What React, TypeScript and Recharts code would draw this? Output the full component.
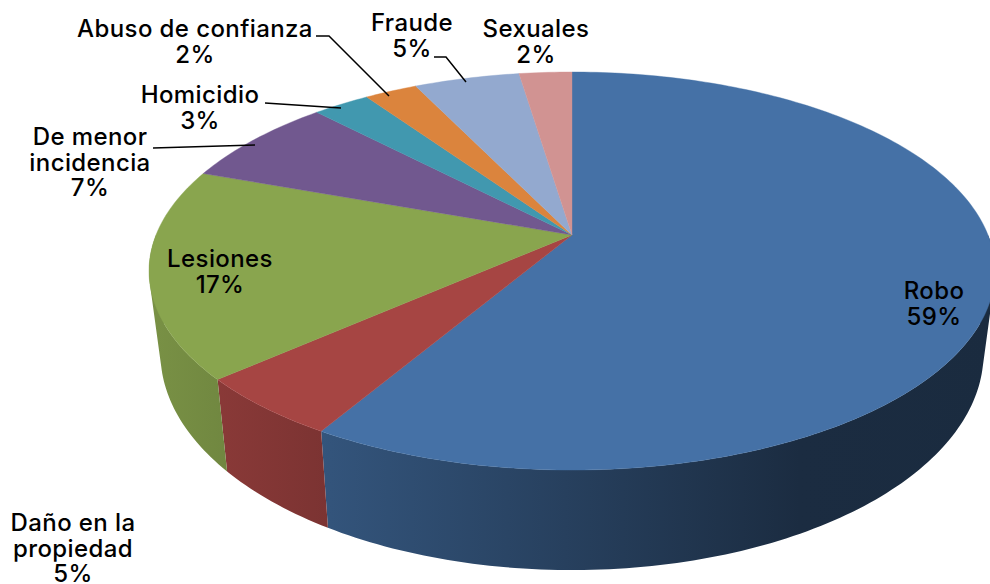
import { Pie, PieChart } from "recharts";

// pie slices, clockwise from 12 o'clock
const categories = ["Robo", "Daño en la propiedad", "Lesiones", "De menor incidencia", "Homicidio", "Abuso de confianza", "Fraude", "Sexuales"];
const values = [58.5, 5.0, 17.0, 7.3, 2.6, 2.4, 4.8, 2.4];
const colors = ["#4571A6", "#A64543", "#89A54E", "#71588F", "#4198AF", "#DB843D", "#93A9CF", "#D19392"];

const labelLines = [["Robo"], ["Daño en la", "propiedad"], ["Lesiones"], ["De menor", "incidencia"], ["Homicidio"], ["Abuso de confianza"], ["Fraude"], ["Sexuales"]];
const labelSpots = [[934, 299], [73, 531], [220, 267], [90, 145], [200, 103], [195, 37], [412, 31], [536, 37]];
const leaders = ["", "", "", "153,148 255,145", "265,103 341,108", "316,36 329,36 389,96", "434,57 446,57 466,82", ""];

const tableData = categories.map((name, i) => ({ name, value: values[i], fill: colors[i] }));

// fake 3d: the circle is projected so near side looks bigger
const squash = 192.5 / 416;
const persp = 0.181;
const rad = Math.PI / 180;

// side wall gets darker going to the right
const wallStops = [[150, 0.88], [330, 0.74], [800, 0.39], [1000, 0.38]];

function rimPoint(cx: number, cy: number, r: number, deg: number) {
  const X = Math.cos(deg * rad);
  const Y = -Math.sin(deg * rad);
  const w = 1 - persp * Y;
  return [cx + (r * X) / w, cy + (r * squash * Y) / w];
}

function floorPoint(cx: number, p: number[]) {
  return [cx + 0.973 * (p[0] - cx), p[1] + 92 + 0.09 * (p[1] - 381)];
}

function darken(hex: string, f: number) {
  const n = parseInt(hex.slice(1), 16);
  const c = [n >> 16, (n >> 8) & 255, n & 255].map((v) => Math.round(v * f));
  return `rgb(${c[0]},${c[1]},${c[2]})`;
}

function Slice3D(props: any) {
  const { cx, cy, outerRadius, startAngle, endAngle, fill, index } = props;
  const steps = Math.max(2, Math.ceil(Math.abs(startAngle - endAngle)));
  const rim: number[][] = [];
  for (let i = 0; i <= steps; i++) {
    rim.push(rimPoint(cx, cy, outerRadius, startAngle + ((endAngle - startAngle) * i) / steps));
  }
  const top = `M${cx},${cy}L` + rim.map((p) => `${p[0]},${p[1]}`).join("L") + "Z";

  // only the front half of the rim has a wall, all quads wound the same way
  let wall = "";
  for (let i = 0; i < steps; i++) {
    const midDeg = startAngle + ((endAngle - startAngle) * (i + 0.5)) / steps;
    if (Math.sin(midDeg * rad) > 0) continue;
    const q = [rim[i], rim[i + 1], floorPoint(cx, rim[i + 1]), floorPoint(cx, rim[i])];
    let area = 0;
    q.forEach((p, n) => {
      const o = q[(n + 1) % 4];
      area += p[0] * o[1] - o[0] * p[1];
    });
    const pts = area < 0 ? q.slice().reverse() : q;
    wall += "M" + pts.map((p) => `${p[0]},${p[1]}`).join("L") + "Z";
  }
  const gradId = `wall${index}`;
  return (
    <g>
      <defs>
        <linearGradient id={gradId} gradientUnits="userSpaceOnUse" x1={150} x2={1000} y1={0} y2={0}>
          {wallStops.map((s) => (
            <stop key={s[0]} offset={(s[0] - 150) / 850} stopColor={darken(fill, s[1])} />
          ))}
        </linearGradient>
      </defs>
      {wall && <path d={wall} fill={`url(#${gradId})`} stroke="none" />}
      <path d={top} fill={fill} stroke={fill} strokeWidth={0.4} />
    </g>
  );
}

function SliceLabel(props: any) {
  const i = props.index;
  const [x, y] = labelSpots[i];
  const lines = [...labelLines[i], Math.round(values[i]) + "%"];
  return (
    <g>
      {leaders[i] && <polyline points={leaders[i]} fill="none" stroke="#000" strokeWidth={1.5} />}
      <text x={x} y={y} textAnchor="middle" fontFamily="Inter" fontWeight={500} fontSize={24} letterSpacing={0.4} fill="#000">
        {lines.map((t, n) => (
          <tspan key={n} x={x} dy={n === 0 ? 0 : 25.5}>
            {t}
          </tspan>
        ))}
      </text>
    </g>
  );
}

export default function App() {
  return (
    <div style={{ position: "absolute", left: 0, top: 0, width: 990, height: 584, overflow: "hidden", background: "#fff" }}>
      <PieChart width={990} height={584} margin={{ top: 0, right: 0, bottom: 0, left: 0 }}>
        <Pie
          data={tableData}
          dataKey="value"
          nameKey="name"
          cx={572}
          cy={235}
          outerRadius={416}
          startAngle={90}
          endAngle={-270}
          stroke="none"
          shape={Slice3D}
          label={SliceLabel}
          labelLine={false}
          isAnimationActive={false}
        />
      </PieChart>
    </div>
  );
}
